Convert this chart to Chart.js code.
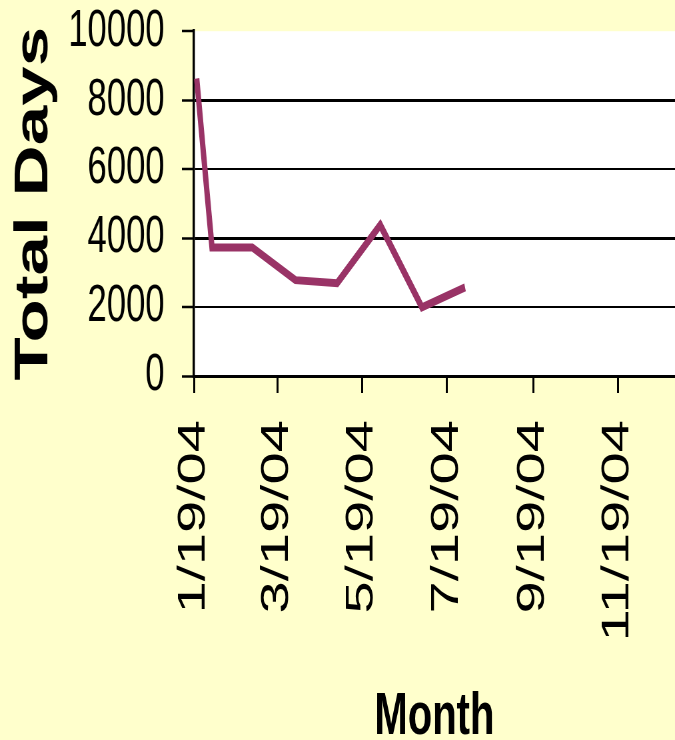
<!DOCTYPE html>
<html>
<head>
<meta charset="utf-8">
<script src="https://cdn.jsdelivr.net/npm/chart.js@4.4.1/dist/chart.umd.min.js"></script>
<style>
  html, body { margin: 0; padding: 0; background: #ffffcc; overflow: hidden; }
</style>
</head>
<body>
<!-- canvas is drawn 1.5x wide and squeezed back to 675px, which gives the tall, narrow lettering of the original -->
<canvas id="grafico" width="1013" height="740" style="display:block;width:675px;height:740px"></canvas>
<script>
const axisStart = '1/19/04';
const axisEnd = '12/30/04';
const tickLabels = ['1/19/04', '3/19/04', '5/19/04', '7/19/04', '9/19/04', '11/19/04'];
const reportDates = ['1/21/04', '2/1/04', '3/1/04', '4/1/04', '5/1/04', '6/1/04', '7/1/04', '8/1/04'];
const totalDays = [8630, 3730, 3730, 2780, 2690, 4380, 1990, 2570];

const squeeze = 1013 / 675;

// days since the start of the axis
function dayOf(txt) {
  const [m, d, y] = txt.split('/').map(Number);
  const [m0, d0, y0] = axisStart.split('/').map(Number);
  return (Date.UTC(2000 + y, m - 1, d) - Date.UTC(2000 + y0, m0 - 1, d0)) / 86400000;
}

function hasFont(name) {
  const c = document.createElement('canvas').getContext('2d');
  c.font = '40px monospace';
  const base = c.measureText('Month 10000').width;
  c.font = `40px "${name}", monospace`;
  return c.measureText('Month 10000').width !== base;
}

const narrow = hasFont('Liberation Sans Narrow');
const fonteMes = narrow
  ? { family: '"Liberation Sans Narrow"', size: 70, weight: 'bold', lineHeight: 0.75 }
  : { family: '"Liberation Sans"', size: 60, weight: 'bold', lineHeight: 0.75 };

const fundoPlot = {
  id: 'fundoPlot',
  beforeDraw(chart) {
    const { ctx, chartArea: a } = chart;
    ctx.save();
    ctx.fillStyle = '#ffffcc';
    ctx.fillRect(0, 0, chart.width, chart.height);
    ctx.fillStyle = '#ffffff';
    ctx.fillRect(a.left, a.top, a.right - a.left, a.bottom - a.top);
    ctx.restore();
  }
};

const grafico = new Chart(document.getElementById('grafico').getContext('2d'), {
  type: 'line',
  data: {
    datasets: [{
      label: 'Total Days',
      data: reportDates.map((d, i) => ({ x: dayOf(d), y: totalDays[i] })),
      borderColor: '#993366',
      borderWidth: 8,
      borderJoinStyle: 'miter',
      borderCapStyle: 'butt',
      pointRadius: 0,
      tension: 0,
      fill: false
    }]
  },
  options: {
    responsive: false,
    devicePixelRatio: 1,
    animation: false,
    layout: { padding: { top: 31, left: 0, right: 0, bottom: 0 } },
    plugins: {
      legend: { display: false },
      tooltip: { enabled: false }
    },
    scales: {
      x: {
        type: 'linear',
        min: dayOf(axisStart),
        max: dayOf(axisEnd),
        afterBuildTicks: (scale) => {
          scale.ticks = tickLabels.map(t => ({ value: dayOf(t) }));
        },
        afterFit: (scale) => { scale.height = 364; },
        ticks: {
          autoSkip: false,
          maxRotation: 90,
          minRotation: 90,
          padding: 27,
          color: '#000000',
          font: { family: '"Liberation Sans", Arial, sans-serif', size: 58, lineHeight: 1 },
          callback: (value, index) => tickLabels[index]
        },
        grid: {
          drawOnChartArea: false,
          drawTicks: true,
          tickLength: 17,
          tickWidth: 3,
          tickColor: '#000000'
        },
        border: { display: true, color: '#000000', width: 2.5 },
        title: {
          display: true,
          text: 'Month',
          color: '#000000',
          font: fonteMes,
          padding: { top: 0, bottom: 0 }
        }
      },
      y: {
        min: 0,
        max: 10000,
        afterFit: (scale) => { scale.width = Math.round(194 * squeeze); },
        ticks: {
          stepSize: 2000,
          autoSkip: false,
          padding: 26,
          color: '#000000',
          // small lineHeight keeps the top label from pushing the plot area down
          font: { family: '"Liberation Sans", Arial, sans-serif', size: 52, lineHeight: 0.2 },
          callback: (value) => String(value)
        },
        grid: {
          color: (ctx) => ctx.tick && ctx.tick.value === 10000 ? 'rgba(0,0,0,0)' : '#000000',
          lineWidth: (ctx) => ctx.tick && ctx.tick.value % 4000 === 0 ? 3 : 2,
          tickLength: 18,
          tickWidth: 2.5,
          tickColor: '#000000'
        },
        border: { display: true, color: '#000000', width: 3.5 },
        title: {
          display: true,
          text: 'Total Days',
          color: '#000000',
          font: { family: '"Liberation Sans", Arial, sans-serif', size: 71, weight: 'bold' },
          padding: { top: 9, bottom: 0 }
        }
      }
    }
  },
  plugins: [fundoPlot]
});
</script>
</body>
</html>
